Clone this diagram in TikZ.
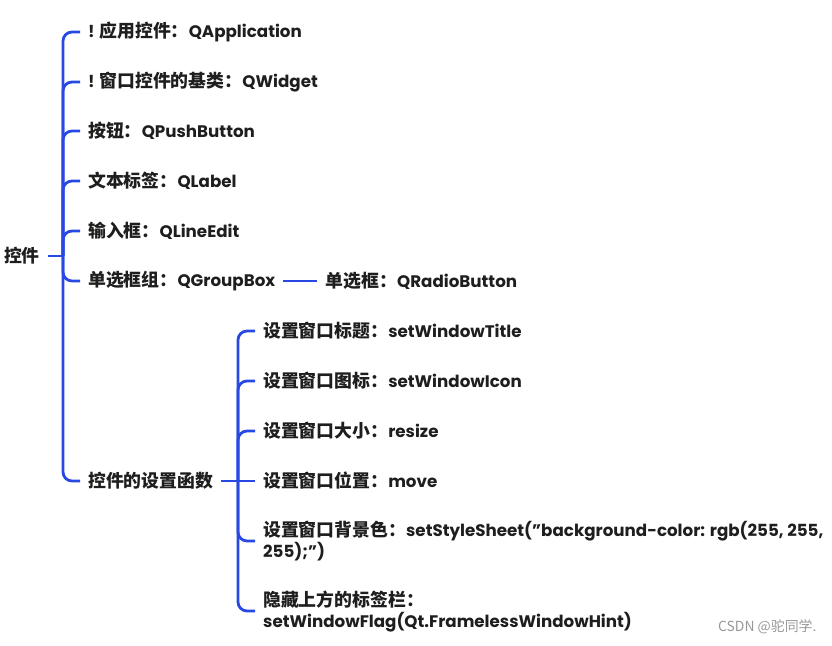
\documentclass[tikz,border=0pt]{standalone}
\usepackage{fontspec}
\setmainfont{Poppins}
\newfontfamily\zhfont{Noto Sans CJK SC}[Scale=1.07]
\newcommand\zh[1]{{\zhfont #1}}
\usepackage{tikz}
\usetikzlibrary{positioning}
\definecolor{linkblue}{RGB}{40,72,228}
\definecolor{ink}{RGB}{30,30,30}
\tikzset{
  topic/.style={anchor=west, inner xsep=8pt, inner ysep=2pt, text=ink,
    font=\fontsize{16.7}{21}\selectfont\bfseries, align=left},
  link/.style={draw=linkblue, line width=2.8pt, rounded corners=9pt}
}

\begin{document}
\begin{tikzpicture}[x=1pt, y=-1pt]
      \useasboundingbox (0,0) rectangle (832,645);

      % root and first level
      \node[topic, anchor=east] (root) at (48, 256) {\zh{控件}};
      \coordinate (j1) at (63, 256);

      \node[topic] (app)  at (80, 32)  {! \zh{应用控件：}QApplication};
      \node[topic] (wid)  at (80, 82)  {! \zh{窗口控件的基类：}QWidget};
      \node[topic] (btn)  at (80, 131) {\zh{按钮：}QPushButton};
      \node[topic] (lbl)  at (80, 181) {\zh{文本标签：}QLabel};
      \node[topic] (edit) at (80, 231) {\zh{输入框：}QLineEdit};
      \node[topic] (grp)  at (80, 281) {\zh{单选框组：}QGroupBox};
      \node[topic] (set)  at (80, 481) {\zh{控件的设置函数}};

      \node[topic, right=34pt of grp] (radio) {\zh{单选框：}QRadioButton};

      \draw[link] (root) -- (j1);
      \foreach \n in {app, wid, btn, lbl, edit, grp, set} {
        \draw[link] (j1) |- (\n.west);
      }
      \draw[link] (grp) -- (radio);

      % setting functions
      \coordinate (j2) at (238, 481);

      \node[topic] (title) at (255, 331) {\zh{设置窗口标题：}setWindowTitle};
      \node[topic] (icon)  at (255, 381) {\zh{设置窗口图标：}setWindowIcon};
      \node[topic] (size)  at (255, 431) {\zh{设置窗口大小：}resize};
      \node[topic] (move)  at (255, 481) {\zh{设置窗口位置：}move};
      \node[topic] (bg)    at (255, 541) {\zh{设置窗口背景色：}setStyleSheet(”background-color: rgb(255, 255,\\255);”)};
      \node[topic] (hide)  at (255, 611) {\zh{隐藏上方的标签栏：}\\setWindowFlag(Qt.FramelessWindowHint)};

      \foreach \n in {title, icon, size, bg, hide} {
        \draw[link] (j2) |- (\n.west);
      }
      \draw[link] (set) -- (move);

      \node[anchor=east, text=black!40, font=\zhfont\fontsize{13}{15}\selectfont] (mark) at (820, 627) {CSDN @驼同学.};
    \end{tikzpicture}
\end{document}
